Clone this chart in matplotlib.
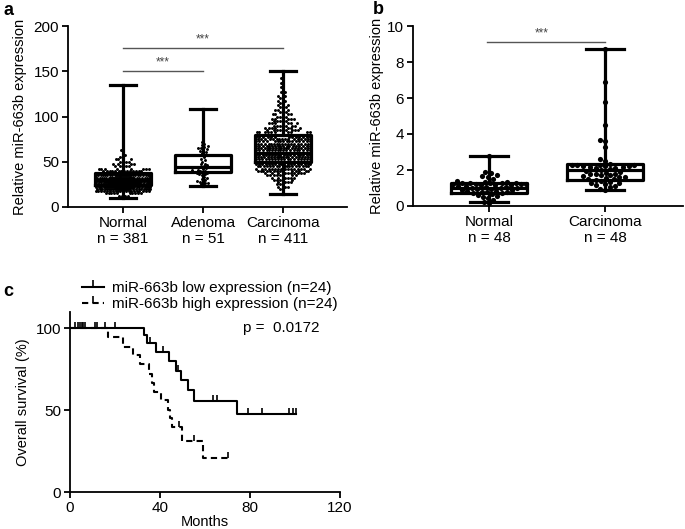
import numpy as np
import matplotlib
matplotlib.use('Agg')
import matplotlib.pyplot as plt
from matplotlib.lines import Line2D

plt.rcParams['font.family'] = ['Liberation Sans', 'DejaVu Sans']
plt.rcParams['font.size'] = 11

# ---------- panel a: tissue cohort ----------
a_labels = ['Normal\nn = 381', 'Adenoma\nn = 51', 'Carcinoma\nn = 411']
a_min = [9.6, 23.5, 14]
a_q1 = [24.3, 38.5, 49.4]
a_med = [30, 44.5, 60]
a_q3 = [37.9, 57.5, 79.5]
a_max = [134.5, 108, 150]

# dense groups read as value levels and number of dots at each level
normal_lvl = [9.6, 12.5, 15, 17.5, 20, 22.5, 25, 27.5, 30, 32.5, 35, 37.5, 40,
              42.5, 45, 47.5, 50, 52.5, 55, 57.5, 60, 62.5, 67.5, 72.5, 134.5]
normal_cnt = [1, 4, 10, 20, 30, 38, 44, 46, 44, 40, 34, 24, 14,
              8, 5, 4, 4, 3, 2, 1, 1, 1, 1, 1, 1]
adenoma_vals = [23.5, 25, 26, 27, 28, 28, 29, 30, 31, 32, 33, 35, 36, 37, 38, 38, 38,
                39, 39, 39, 40, 40, 41, 41, 42, 43, 44, 45, 46, 47, 48, 50, 52, 53,
                55, 57, 58, 60, 61, 62, 63, 64, 65, 65, 66, 67, 68, 70, 72, 78, 108]
carc_lvl = [14, 20, 22.5, 25, 27.5, 30, 32.5, 35, 37.5, 40, 42.5, 45, 47.5, 50, 52.5,
            55, 57.5, 60, 62.5, 65, 67.5, 70, 72.5, 75, 77.5, 80, 82.5, 85, 87.5, 90,
            92.5, 95, 97.5, 100, 102.5, 105, 107.5, 110, 112.5, 115, 117.5, 120,
            122.5, 125, 127.5, 130, 132.5, 135, 137.5, 140, 142.5, 150]
carc_cnt = [1, 2, 3, 3, 4, 5, 6, 8, 10, 14, 16, 18, 18, 18, 18,
            18, 18, 18, 18, 18, 18, 17, 16, 15, 13, 11, 10, 9, 7, 7,
            6, 5, 5, 4, 4, 3, 3, 3, 2, 2, 2, 2,
            2, 1, 2, 1, 1, 1, 1, 1, 1, 1]

# ---------- panel b: paired cohort ----------
b_labels = ['Normal\nn = 48', 'Carcinoma\nn = 48']
b_min = [0.2, 0.89]
b_q1 = [0.74, 1.42]
b_med = [1.0, 2.0]
b_q3 = [1.3, 2.32]
b_max = [2.8, 8.7]
normal_b = [0.15, 0.2, 0.35, 0.45, 0.5, 0.55, 0.6, 0.65, 0.7, 0.72, 0.75, 0.78, 0.8,
            0.82, 0.85, 0.88, 0.9, 0.92, 0.95, 0.98, 1.0, 1.02, 1.05, 1.08, 1.1, 1.12,
            1.14, 1.16, 1.18, 1.2, 1.2, 1.22, 1.24, 1.25, 1.26, 1.28, 1.3, 1.3, 1.32,
            1.35, 1.38, 1.5, 1.6, 1.65, 1.7, 1.85, 1.9, 2.8]
carc_b = [0.89, 0.95, 1.05, 1.1, 1.15, 1.2, 1.25, 1.3, 1.35, 1.4, 1.45, 1.5, 1.5,
          1.55, 1.6, 1.6, 1.65, 1.7, 1.7, 1.75, 1.8, 1.8, 1.85, 1.9, 1.95, 2.0, 2.05,
          2.1, 2.1, 2.15, 2.15, 2.2, 2.2, 2.2, 2.25, 2.25, 2.3, 2.3, 2.35, 2.5, 2.6,
          3.3, 3.6, 3.65, 4.5, 5.75, 6.9, 8.7]

# ---------- panel c: survival ----------
low_t = [0, 33, 34.4, 38.2, 44, 47, 49.3, 52.3, 55.3, 74, 100.4]
low_s = [100, 95.5, 91, 85.5, 80, 74, 68, 62, 55.5, 47.5, 47.5]
low_cens = [2.2, 3.4, 4.4, 5.2, 5.9, 6.7, 11.1, 12.1, 15.6, 20, 35.6, 41.2, 48.1,
            63.4, 65.2, 79.3, 85.5, 97.5, 99.3, 100.4]
high_t = [0, 16.7, 23.4, 27.9, 31.1, 35.3, 36.4, 37.5, 40.4, 43.4, 44.4, 45.2, 49.6, 59.3, 70.4]
high_s = [100, 94.3, 88.6, 83.5, 77.8, 72, 66.7, 61.2, 56.1, 50, 44.9, 39.8, 31.1, 20.9, 20.9]
high_cens = [48.6, 55.1, 70.4]
legend_labels = ['miR-663b low expression (n=24)', 'miR-663b high expression (n=24)']


def style_axes(ax):
    for s in ['top', 'right']:
        ax.spines[s].set_visible(False)
    for s in ['left', 'bottom']:
        ax.spines[s].set_linewidth(1.3)
    ax.tick_params(width=1.3, length=4, pad=2.5, labelsize=11)


def swarm(ax, vals, pos, dot, maxw):
    # simple beeswarm in pixel space, width clamped to maxw (data units)
    x0, y0 = ax.transData.transform((0, 0))
    x1, y1 = ax.transData.transform((1, 1))
    sx, sy = x1 - x0, y1 - y0
    ys = np.asarray(vals, float) * sy
    half = maxw * sx / 2
    grid = np.linspace(-half, half, 61)
    px, py = [], []
    xs = np.zeros(len(ys))
    for i in np.argsort(ys, kind='stable'):
        y = ys[i]
        ax_ = np.array(px)
        ay_ = np.array(py)
        if len(ay_):
            m = np.abs(ay_ - y) < dot
            nx, ny = ax_[m], ay_[m]
        else:
            nx, ny = np.array([]), np.array([])
        best = 0.0
        if len(nx):
            dy = np.sqrt(dot ** 2 - (ny - y) ** 2)
            cands = np.concatenate([[0.0], nx - dy, nx + dy])
            cands = cands[np.argsort(np.abs(cands), kind='stable')]
            best = None
            for c in cands:
                if abs(c) <= half and np.all((c - nx) ** 2 + (y - ny) ** 2 >= dot ** 2 - 1e-6):
                    best = c
                    break
            if best is None:
                d = np.min((grid[:, None] - nx[None, :]) ** 2 + (y - ny[None, :]) ** 2, axis=1)
                best = grid[np.argmax(d - 1e-6 * np.abs(grid))]
        xs[i] = best
        px.append(best)
        py.append(y)
    return pos + xs / sx


def boxes(ax, mins, q1, med, q3, maxs, width):
    stats = [dict(whislo=mins[i], q1=q1[i], med=med[i], q3=q3[i], whishi=maxs[i])
             for i in range(len(med))]
    lw = 2.3
    ax.bxp(stats, positions=range(len(med)), widths=width, capwidths=0.33,
           showfliers=False, manage_ticks=False,
           boxprops=dict(lw=lw, color='k'), whiskerprops=dict(lw=lw, color='k'),
           capprops=dict(lw=lw, color='k'), medianprops=dict(lw=lw, color='k'))


fig = plt.figure(figsize=(6.85, 5.29), dpi=100)
W, H = 685, 529

# ----- a -----
ax = fig.add_axes([68 / W, 1 - 207 / H, 279 / W, 181 / H])
ax.set_xlim(-0.69, 2.8)
ax.set_ylim(0, 200)
style_axes(ax)
groups_a = [np.repeat(normal_lvl, normal_cnt), np.array(adenoma_vals, float),
            np.repeat(carc_lvl, carc_cnt)]
for i, g in enumerate(groups_a):
    xs = swarm(ax, g, i, 2.9, 0.68)
    ax.scatter(xs, g, s=4.5, color='k', linewidths=0, zorder=1)
boxes(ax, a_min, a_q1, a_med, a_q3, a_max, 0.7)
ax.set_xticks(range(3))
ax.set_xticklabels(a_labels)
ax.set_yticks([0, 50, 100, 150, 200])
ax.set_ylabel('Relative miR-663b expression', fontsize=10.5, labelpad=5)
ax.plot([0, 1], [150.6, 150.6], color='#555555', lw=1)
ax.text(0.5, 153, '***', ha='center', va='bottom', fontsize=8.5, color='#444444')
ax.plot([0, 2], [176, 176], color='#555555', lw=1)
ax.text(1.0, 178.5, '***', ha='center', va='bottom', fontsize=8.5, color='#444444')

# ----- b -----
ax = fig.add_axes([413 / W, 1 - 206 / H, 270 / W, 180 / H])
ax.set_xlim(-0.655, 1.672)
ax.set_ylim(0, 10)
style_axes(ax)
for i, g in enumerate([normal_b, carc_b]):
    xs = swarm(ax, g, i, 5.4, 0.66)
    ax.scatter(xs, g, s=14, color='k', linewidths=0, zorder=1)
boxes(ax, b_min, b_q1, b_med, b_q3, b_max, 0.66)
ax.set_xticks(range(2))
ax.set_xticklabels(b_labels)
ax.set_yticks([0, 2, 4, 6, 8, 10])
ax.set_ylabel('Relative miR-663b expression', fontsize=10.5, labelpad=2)
ax.plot([-0.02, 1.0], [9.13, 9.13], color='#555555', lw=1)
ax.text(0.45, 9.25, '***', ha='center', va='bottom', fontsize=8.5, color='#444444')

# ----- c -----
ax = fig.add_axes([70 / W, 1 - 492 / H, 270 / W, 180.4 / H])
ax.set_xlim(0, 120)
ax.set_ylim(0, 110)
style_axes(ax)
ax.step(low_t, low_s, where='post', color='k', lw=1.5)
ax.step(high_t, high_s, where='post', color='k', lw=1.5, ls=(0, (3, 2)))


def surv_at(ts, ss, t):
    idx = np.searchsorted(ts, t, side='right') - 1
    return np.asarray(ss)[idx]


ax.plot(low_cens, surv_at(low_t, low_s, low_cens), ls='none', marker=2, ms=4,
        mew=1.2, color='k')
ax.plot(high_cens, surv_at(high_t, high_s, high_cens), ls='none', marker=2, ms=4,
        mew=1.2, color='k')
ax.set_xticks([0, 40, 80, 120])
ax.set_yticks([0, 50, 100])
ax.set_xlabel('Months', fontsize=10.5, labelpad=0)
ax.set_ylabel('Overall survival (%)', fontsize=10.5)
ax.text(77, 100, 'p =  0.0172', ha='left', va='center', fontsize=11)
handles = [Line2D([0], [0], color='k', lw=1.5, marker=2, ms=5, mew=1.2),
           Line2D([0], [0], color='k', lw=1.5, ls=(0, (3, 2)), marker=2, ms=5, mew=1.2)]
fig.legend(handles, legend_labels, loc='upper left', bbox_to_anchor=(82 / W, 1 - 281 / H),
           frameon=False, handlelength=1.45, handletextpad=0.5, labelspacing=0.15,
           borderpad=0, borderaxespad=0, fontsize=11)

# panel letters
fig.text(3 / W, 1 - 2 / H, 'a', fontsize=13, fontweight='bold', va='top')
fig.text(373 / W, 1 - 1 / H, 'b', fontsize=13, fontweight='bold', va='top')
fig.text(3 / W, 1 - 283 / H, 'c', fontsize=13, fontweight='bold', va='top')

fig.savefig('out.png', dpi=100)
